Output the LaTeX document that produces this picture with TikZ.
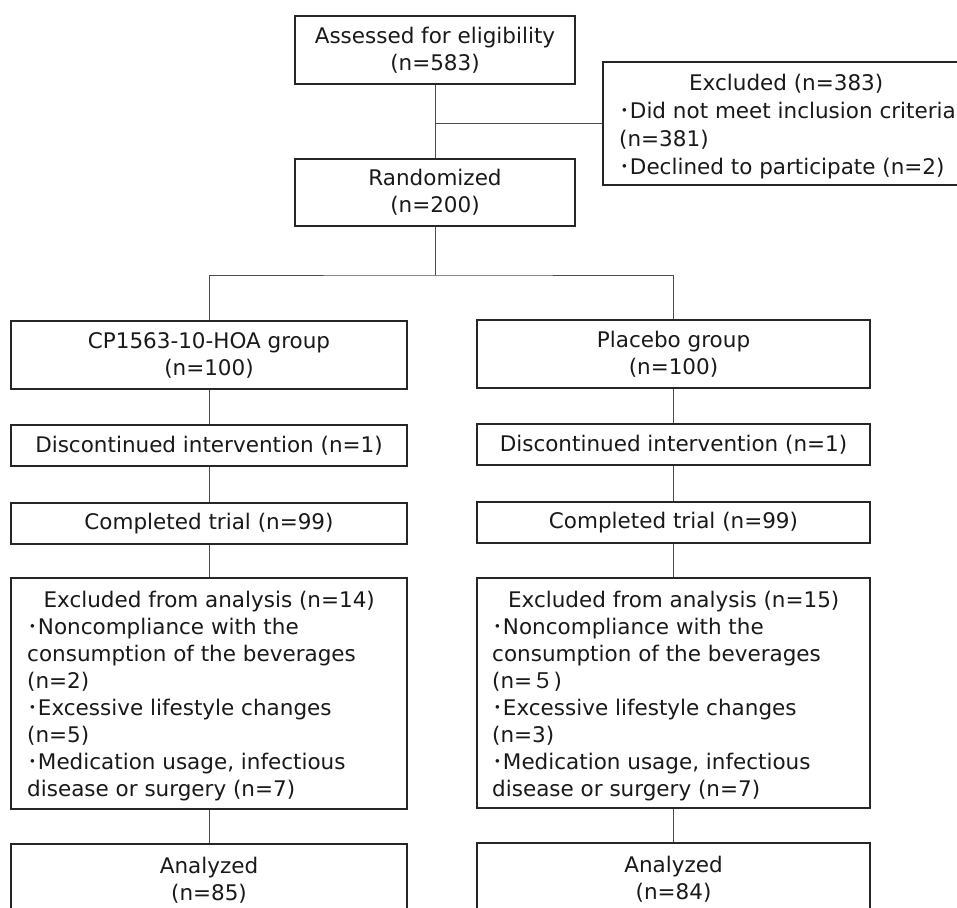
\documentclass[tikz,border=0pt]{standalone}
\usepackage{fontspec}
\setmainfont{DejaVu Sans}
\newfontfamily\cjk{Noto Sans CJK JP}
\newcommand{\bul}{{\cjk ･}}
\begin{document}
\begin{tikzpicture}[x=1pt,y=-1pt,
  box/.style={draw=black!85,line width=1.5pt,inner sep=0pt,align=center,
    font=\fontsize{21.5}{27}\selectfont,text=black!90},
  txt/.style={inner sep=0pt,align=left,font=\fontsize{21.5}{27}\selectfont,text=black!90},
  link/.style={draw=black!70,line width=0.9pt}]
\useasboundingbox (0,0) rectangle (957,907);
% top
\node[box,minimum width=280,minimum height=68] (assess) at (435,50) {Assessed for eligibility\\(n=583)};
\node[box,minimum width=367,minimum height=123] (excl) at (786.5,123.5) {};
\node[txt,anchor=north west,font=\fontsize{21.5}{28}\selectfont] (exclt) at (619,73.7)
  {\makebox[334pt][c]{Excluded (n=383)}\\\bul Did not meet inclusion criteria\\(n=381)\\\bul Declined to participate (n=2)};
\node[box,minimum width=280,minimum height=67] (rand) at (435,192.5) {Randomized\\(n=200)};
% left column
\node[box,minimum width=396,minimum height=68] (grpA) at (209,355) {CP1563-10-HOA group\\(n=100)};
\node[box,minimum width=396,minimum height=41] (discA) at (209,445.5) {Discontinued intervention (n=1)};
\node[box,minimum width=396,minimum height=41] (compA) at (209,523.5) {Completed trial (n=99)};
\node[box,minimum width=396,minimum height=231] (exA) at (209,693.5) {};
\node[txt,anchor=north west] (exAt) at (27,590.7)
  {\makebox[364pt][c]{Excluded from analysis (n=14)}\\\bul Noncompliance with the\\consumption of the beverages\\(n=2)\\\bul Excessive lifestyle changes\\(n=5)\\\bul Medication usage, infectious\\disease or surgery (n=7)};
\node[box,minimum width=396,minimum height=72] (anA) at (209,880) {Analyzed\\(n=85)};
% right column
\node[box,minimum width=393,minimum height=68] (grpB) at (673.5,354) {Placebo group\\(n=100)};
\node[box,minimum width=393,minimum height=41] (discB) at (673.5,444.5) {Discontinued intervention (n=1)};
\node[box,minimum width=393,minimum height=41] (compB) at (673.5,522.5) {Completed trial (n=99)};
\node[box,minimum width=393,minimum height=230] (exB) at (673.5,693) {};
\node[txt,anchor=north west] (exBt) at (492,590.7)
  {\makebox[363pt][c]{Excluded from analysis (n=15)}\\\bul Noncompliance with the\\consumption of the beverages\\(n={\cjk ５})\\\bul Excessive lifestyle changes\\(n=3)\\\bul Medication usage, infectious\\disease or surgery (n=7)};
\node[box,minimum width=393,minimum height=73] (anB) at (673.5,879.5) {Analyzed\\(n=84)};
% connectors
\coordinate (split) at (435,275);
\draw[link] (assess.south) -- (rand.north);
\draw[link] (assess.south |- excl.west) -- (excl.west);
\draw[link] (rand.south) -- (split);
\draw[link] (grpA.north) |- (split) -| (grpB.north);
\draw[link] (grpA) -- (discA);
\draw[link] (discA) -- (compA);
\draw[link] (compA) -- (exA);
\draw[link] (exA) -- (anA);
\draw[link] (grpB) -- (discB);
\draw[link] (discB) -- (compB);
\draw[link] (compB) -- (exB);
\draw[link] (exB) -- (anB);
\end{tikzpicture}
\end{document}
